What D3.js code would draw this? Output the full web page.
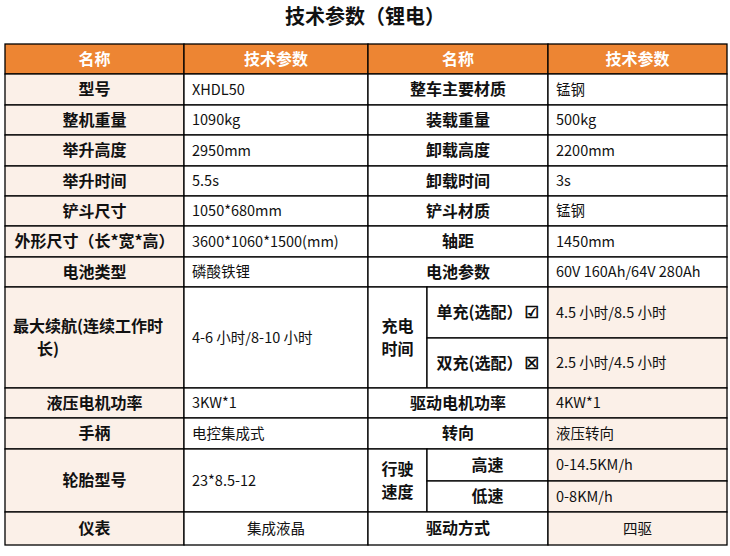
<!DOCTYPE html>
<html><head><meta charset="utf-8">
<script src="https://cdn.jsdelivr.net/npm/d3@7"></script>
<style>body{margin:0;background:#fff;font-family:"Noto Sans CJK SC",sans-serif}</style>
</head><body>
<script>
// table content
const title = '技术参数（锂电）';
const headers = ['名称', '技术参数', '名称', '技术参数'];
const leftNames = ['型号', '整机重量', '举升高度', '举升时间', '铲斗尺寸', '外形尺寸（长*宽*高）', '电池类型'];
const leftValues = ['XHDL50', '1090kg', '2950mm', '5.5s', '1050*680mm', '3600*1060*1500(mm)', '磷酸铁锂'];
const rightNames = ['整车主要材质', '装载重量', '卸载高度', '卸载时间', '铲斗材质', '轴距', '电池参数'];
const rightValues = ['锰钢', '500kg', '2200mm', '3s', '锰钢', '1450mm', '60V 160Ah/64V 280Ah'];
const lowerNames = ['液压电机功率', '手柄'];
const lowerValues = ['3KW*1', '电控集成式'];
const lowerRightNames = ['驱动电机功率', '转向'];
const lowerRightValues = ['4KW*1', '液压转向'];
const chargeOptions = ['单充(选配）', '双充(选配）'];
const chargeMarks = ['☑', '☒'];
const chargeTimes = ['4.5 小时/8.5 小时', '2.5 小时/4.5 小时'];
const speedNames = ['高速', '低速'];
const speedValues = ['0-14.5KM/h', '0-8KM/h'];

// layout: column and row edges
const xs = [5, 184, 368, 427, 548, 727];
const ys = [44, 74, 105, 135, 166, 196, 226, 257, 287, 338, 388, 418, 449, 481, 512, 545];
const orange = '#ED8533', peach = '#FBF0E8';

const svg = d3.select('body').append('svg').attr('width', 730).attr('height', 556);
svg.append('text').attr('x', 365).attr('y', 24).attr('text-anchor', 'middle')
  .attr('font-size', 20).attr('font-weight', 'bold').attr('fill', '#111').text(title);

const cells = [];
function cell(c0, c1, r0, r1, text, o) {
  cells.push(Object.assign({ c0, c1, r0, r1, text, fill: '#fff', bold: false, align: 'middle', color: '#111' }, o));
}
const hc = [[0, 1], [1, 2], [2, 4], [4, 5]];
headers.forEach((h, i) => cell(hc[i][0], hc[i][1], 0, 1, h, { fill: orange, bold: true, color: '#fff' }));
leftNames.forEach((n, i) => {
  cell(0, 1, i + 1, i + 2, n, { fill: peach, bold: true });
  cell(1, 2, i + 1, i + 2, leftValues[i], { align: 'start' });
  cell(2, 4, i + 1, i + 2, rightNames[i], { bold: true });
  cell(4, 5, i + 1, i + 2, rightValues[i], { align: 'start' });
});
cell(0, 1, 8, 10, ['最大续航(连续工作时', '长)'], { fill: peach, bold: true, align: 'start' });
cell(1, 2, 8, 10, '4-6 小时/8-10 小时', { align: 'start' });
cell(2, 3, 8, 10, ['充电', '时间'], { bold: true });
chargeOptions.forEach((n, i) => {
  cell(3, 4, 8 + i, 9 + i, n, { bold: true, mark: chargeMarks[i] });
  cell(4, 5, 8 + i, 9 + i, chargeTimes[i], { fill: peach, align: 'start' });
});
lowerNames.forEach((n, i) => {
  cell(0, 1, 10 + i, 11 + i, n, { fill: peach, bold: true });
  cell(1, 2, 10 + i, 11 + i, lowerValues[i], { align: 'start' });
  cell(2, 4, 10 + i, 11 + i, lowerRightNames[i], { bold: true });
  cell(4, 5, 10 + i, 11 + i, lowerRightValues[i], { align: 'start', fill: peach });
});
cell(0, 1, 12, 14, '轮胎型号', { fill: peach, bold: true });
cell(1, 2, 12, 14, '23*8.5-12', { align: 'start' });
cell(2, 3, 12, 14, ['行驶', '速度'], { bold: true });
speedNames.forEach((n, i) => {
  cell(3, 4, 12 + i, 13 + i, n, { bold: true });
  cell(4, 5, 12 + i, 13 + i, speedValues[i], { fill: peach, align: 'start' });
});
cell(0, 1, 14, 15, '仪表', { fill: peach, bold: true });
cell(1, 2, 14, 15, '集成液晶');
cell(2, 4, 14, 15, '驱动方式', { bold: true });
cell(4, 5, 14, 15, '四驱', { fill: peach });

const g = svg.selectAll('g.cell').data(cells).enter().append('g').attr('class', 'cell');
g.append('rect')
  .attr('x', d => xs[d.c0]).attr('y', d => ys[d.r0])
  .attr('width', d => xs[d.c1] - xs[d.c0]).attr('height', d => ys[d.r1] - ys[d.r0])
  .attr('fill', d => d.fill).attr('stroke', '#000').attr('stroke-width', 1.3);
g.each(function (d) {
  const lines = Array.isArray(d.text) ? d.text : [d.text];
  const lh = 23;
  const cy = (ys[d.r0] + ys[d.r1]) / 2 - (lines.length - 1) * lh / 2;
  const start = d.align === 'start';
  const x = start ? xs[d.c0] + 8 : (xs[d.c0] + xs[d.c1]) / 2 - (d.mark ? 8 : 0);
  const t = d3.select(this).append('text')
    .attr('font-size', d.bold ? 16 : 14.5).attr('font-weight', d.bold ? 'bold' : 'normal')
    .attr('fill', d.color).attr('text-anchor', start ? 'start' : 'middle');
  lines.forEach((l, i) => {
    t.append('tspan').attr('x', x).attr('y', cy + i * lh).attr('dy', '0.35em').text(l);
  });
  if (d.mark) {
    d3.select(this).append('text').attr('x', xs[d.c1] - 9).attr('y', cy).attr('dy', '0.35em')
      .attr('text-anchor', 'end').attr('font-size', 16).attr('font-family', 'DejaVu Sans')
      .attr('font-weight', 'bold').attr('fill', '#000').attr('stroke', '#000').attr('stroke-width', 0.6)
      .text(d.mark);
  }
});
// first-column multiline label: second line indented like the reference
g.filter(d => d.c0 === 0 && Array.isArray(d.text)).selectAll('tspan')
  .attr('x', (l, i) => i === 0 ? xs[0] + 8 : xs[0] + 32);
</script>
</body></html>
